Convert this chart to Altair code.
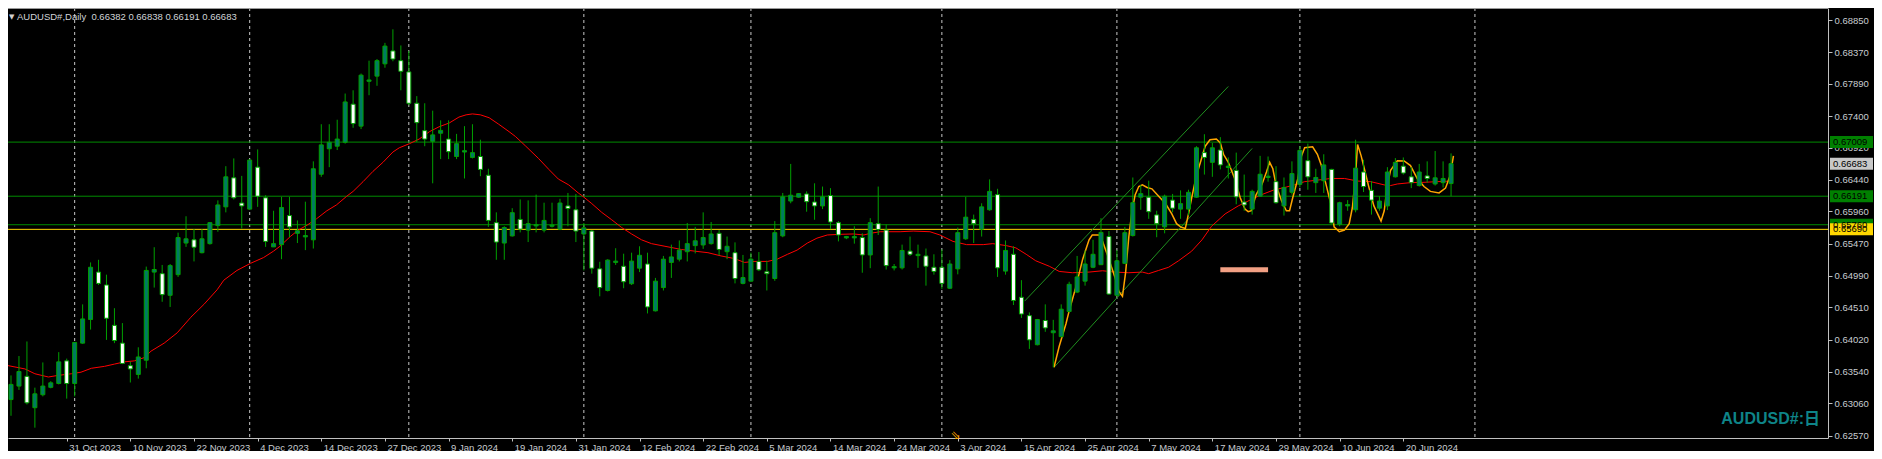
import json
import altair as alt
import pandas as pd

# ---------------- data ----------------
opens = [
0.63117, 0.63117, 0.63321, 0.63468, 0.62994, 0.63190, 0.63302, 0.63360, 0.63702, 0.63360,
0.63970, 0.64327, 0.65044, 0.64849, 0.64239, 0.63970, 0.63629, 0.63497, 0.63712, 0.65044,
0.65020, 0.64693, 0.65005, 0.65483, 0.65532, 0.65337, 0.65474, 0.65747, 0.66030, 0.66469,
0.66088, 0.65996, 0.66630, 0.66167, 0.65425, 0.65459, 0.65898, 0.65630, 0.65576, 0.65532,
0.66523, 0.66908, 0.66947, 0.67006, 0.67582, 0.67250, 0.67928, 0.68006, 0.68192, 0.68387,
0.68240, 0.68070, 0.67596, 0.67182, 0.67021, 0.67143, 0.67055, 0.66791, 0.66859, 0.66777,
0.66791, 0.66508, 0.65791, 0.65483, 0.65591, 0.65840, 0.65679, 0.65742, 0.65679, 0.65737,
0.65693, 0.66044, 0.65986, 0.65620, 0.65664, 0.65093, 0.64766, 0.65190, 0.65132, 0.64868,
0.65103, 0.65166, 0.64458, 0.64810, 0.65190, 0.65239, 0.65352, 0.65444, 0.65454, 0.65474,
0.65630, 0.65352, 0.65337, 0.64873, 0.64907, 0.65205, 0.65049, 0.64947, 0.65591, 0.66118,
0.66176, 0.66225, 0.66103, 0.66044, 0.66201, 0.65791, 0.65561, 0.65561, 0.65566, 0.65303,
0.65776, 0.65679, 0.65108, 0.65108, 0.65361, 0.65293, 0.65288, 0.65117, 0.65117, 0.64800,
0.65093, 0.65547, 0.65840, 0.65693, 0.65986, 0.66215, 0.65059, 0.65313, 0.64663, 0.64385,
0.63946, 0.64312, 0.64127, 0.64068, 0.64449, 0.64742, 0.64907, 0.65117, 0.65156, 0.65581,
0.64693, 0.65176, 0.65596, 0.66176, 0.66176, 0.65908, 0.65727, 0.66132, 0.65996, 0.65996,
0.66176, 0.66850, 0.66703, 0.66889, 0.66625, 0.66581, 0.66103, 0.65996, 0.66191, 0.66474,
0.66411, 0.66044, 0.66250, 0.66371, 0.66728, 0.66396, 0.66425, 0.66596, 0.65766, 0.66044,
0.65986, 0.66557, 0.66279, 0.66010, 0.66044, 0.66484, 0.66645, 0.66484, 0.66352, 0.66498,
0.66376, 0.66396, 0.66382]

highs = [
0.63287, 0.63482, 0.63775, 0.63995, 0.63297, 0.63678, 0.63395, 0.63834, 0.63736, 0.63980,
0.64556, 0.65190, 0.65230, 0.65005, 0.64498, 0.64273, 0.63687, 0.63907, 0.65127, 0.65420,
0.65152, 0.65166, 0.65640, 0.65888, 0.65693, 0.65693, 0.65801, 0.66128, 0.66645, 0.66762,
0.66498, 0.66752, 0.66898, 0.66206, 0.65971, 0.66181, 0.66181, 0.65825, 0.66108, 0.66718,
0.67279, 0.67279, 0.67347, 0.67743, 0.67792, 0.68045, 0.68240, 0.68265, 0.68509, 0.68714,
0.68470, 0.68387, 0.67704, 0.67596, 0.67484, 0.67338, 0.67338, 0.67133, 0.67250, 0.67279,
0.67045, 0.66606, 0.65947, 0.65737, 0.66010, 0.66142, 0.66128, 0.66215, 0.66093, 0.66093,
0.66152, 0.66240, 0.66225, 0.65786, 0.65679, 0.65200, 0.65239, 0.65405, 0.65322, 0.65337,
0.65434, 0.65337, 0.64956, 0.65288, 0.65459, 0.65522, 0.65786, 0.65727, 0.65947, 0.65801,
0.65679, 0.65581, 0.65493, 0.65303, 0.65337, 0.65347, 0.65215, 0.65815, 0.66240, 0.66679,
0.66235, 0.66264, 0.66386, 0.66337, 0.66313, 0.65815, 0.65591, 0.65737, 0.65630, 0.65859,
0.66337, 0.65761, 0.65166, 0.65459, 0.65581, 0.65459, 0.65400, 0.65313, 0.65386, 0.65225,
0.65718, 0.66181, 0.65913, 0.66084, 0.66445, 0.66303, 0.65522, 0.65434, 0.64922, 0.64434,
0.64336, 0.64556, 0.64322, 0.64556, 0.64898, 0.65288, 0.65371, 0.65532, 0.65859, 0.65664,
0.65376, 0.65727, 0.66474, 0.66362, 0.66425, 0.65971, 0.66215, 0.66225, 0.66279, 0.66289,
0.66947, 0.67128, 0.66996, 0.67084, 0.66777, 0.66850, 0.66518, 0.66289, 0.66801, 0.66791,
0.66645, 0.66474, 0.66718, 0.66947, 0.66986, 0.66606, 0.66825, 0.66606, 0.66108, 0.66132,
0.67045, 0.66742, 0.66420, 0.66191, 0.66630, 0.66767, 0.66777, 0.66630, 0.66679, 0.66718,
0.66874, 0.66718, 0.66838]

lows = [
0.63043, 0.62872, 0.63263, 0.63043, 0.62692, 0.63165, 0.63287, 0.63346, 0.63131, 0.63165,
0.63961, 0.64175, 0.64849, 0.64019, 0.63970, 0.63653, 0.63375, 0.63434, 0.63590, 0.64810,
0.64595, 0.64517, 0.64971, 0.65425, 0.65205, 0.65327, 0.65459, 0.65654, 0.65947, 0.66142,
0.65703, 0.65986, 0.66030, 0.65425, 0.65425, 0.65239, 0.65571, 0.65483, 0.65376, 0.65400,
0.66484, 0.66630, 0.66889, 0.66986, 0.67225, 0.67206, 0.67718, 0.67860, 0.68133, 0.68231,
0.67792, 0.67567, 0.67011, 0.66947, 0.66386, 0.66752, 0.66752, 0.66752, 0.66459, 0.66762,
0.66494, 0.65727, 0.65230, 0.65230, 0.65581, 0.65644, 0.65498, 0.65644, 0.65644, 0.65718,
0.65679, 0.65737, 0.65498, 0.65069, 0.65020, 0.64678, 0.64751, 0.65152, 0.64800, 0.64849,
0.65044, 0.64419, 0.64449, 0.64766, 0.64956, 0.65205, 0.65205, 0.65327, 0.65395, 0.65459,
0.65298, 0.65239, 0.64873, 0.64859, 0.64898, 0.65059, 0.64766, 0.64912, 0.65571, 0.66084,
0.66167, 0.65957, 0.65835, 0.65996, 0.65693, 0.65508, 0.65542, 0.65474, 0.65034, 0.65103,
0.65605, 0.65083, 0.65069, 0.65083, 0.65288, 0.65108, 0.64839, 0.65005, 0.64790, 0.64790,
0.65010, 0.65532, 0.65483, 0.65581, 0.65971, 0.64971, 0.65005, 0.64546, 0.64351, 0.63883,
0.63936, 0.64141, 0.63605, 0.64058, 0.64434, 0.64727, 0.64839, 0.65103, 0.65152, 0.64703,
0.64678, 0.65166, 0.65581, 0.65986, 0.65849, 0.65571, 0.65630, 0.65947, 0.65849, 0.65898,
0.66167, 0.66518, 0.66484, 0.66596, 0.66459, 0.66069, 0.65971, 0.65913, 0.66181, 0.66411,
0.66079, 0.65898, 0.66215, 0.66323, 0.66289, 0.66240, 0.66240, 0.65776, 0.65737, 0.65971,
0.65947, 0.66254, 0.65913, 0.65971, 0.65981, 0.66474, 0.66518, 0.66313, 0.66337, 0.66396,
0.66352, 0.66323, 0.66191]

closes = [
0.63238, 0.63346, 0.63541, 0.63068, 0.63204, 0.63321, 0.63370, 0.63687, 0.63360, 0.63980,
0.64336, 0.65117, 0.64873, 0.64346, 0.64010, 0.63663, 0.63580, 0.63761, 0.65069, 0.65083,
0.64703, 0.65142, 0.65566, 0.65547, 0.65420, 0.65547, 0.65791, 0.66059, 0.66484, 0.66167,
0.66044, 0.66737, 0.66191, 0.65508, 0.65474, 0.66020, 0.65727, 0.65669, 0.65596, 0.66606,
0.66967, 0.67006, 0.67055, 0.67616, 0.67289, 0.68021, 0.67948, 0.68240, 0.68460, 0.68265,
0.68079, 0.67596, 0.67303, 0.67055, 0.67118, 0.67186, 0.66864, 0.66986, 0.66879, 0.66850,
0.66596, 0.65825, 0.65498, 0.65718, 0.65942, 0.65693, 0.65776, 0.65761, 0.65825, 0.65756,
0.66088, 0.66005, 0.65664, 0.65713, 0.65103, 0.64810, 0.65225, 0.65210, 0.64898, 0.65210,
0.65298, 0.64517, 0.64907, 0.65239, 0.65273, 0.65376, 0.65474, 0.65517, 0.65566, 0.65620,
0.65386, 0.65434, 0.64947, 0.64961, 0.65239, 0.65078, 0.65020, 0.65640, 0.66181, 0.66206,
0.66230, 0.66108, 0.66044, 0.66181, 0.65801, 0.65605, 0.65581, 0.65581, 0.65303, 0.65791,
0.65688, 0.65142, 0.65127, 0.65371, 0.65313, 0.65313, 0.65132, 0.65054, 0.64873, 0.65166,
0.65640, 0.65874, 0.65776, 0.66030, 0.66264, 0.65108, 0.65371, 0.64615, 0.64410, 0.64019,
0.64327, 0.64200, 0.64156, 0.64483, 0.64859, 0.64971, 0.65166, 0.65313, 0.65644, 0.64712,
0.65215, 0.65640, 0.66093, 0.66230, 0.65957, 0.65776, 0.66191, 0.66010, 0.66079, 0.66250,
0.66923, 0.66777, 0.66923, 0.66664, 0.66645, 0.66181, 0.66059, 0.66264, 0.66523, 0.66494,
0.66093, 0.66323, 0.66533, 0.66884, 0.66484, 0.66474, 0.66664, 0.65786, 0.66093, 0.66064,
0.66615, 0.66337, 0.66132, 0.66118, 0.66557, 0.66703, 0.66542, 0.66396, 0.66557, 0.66459,
0.66469, 0.66459, 0.66683]

x_tick_bars = [8, 16, 24, 32, 40, 48, 56, 64, 72, 80, 88, 96, 104, 112, 120,
               128, 136, 144, 152, 160, 168, 176]
x_tick_labels = ["31 Oct 2023", "10 Nov 2023", "22 Nov 2023", "4 Dec 2023", "14 Dec 2023",
                 "27 Dec 2023", "9 Jan 2024", "19 Jan 2024", "31 Jan 2024", "12 Feb 2024",
                 "22 Feb 2024", "5 Mar 2024", "14 Mar 2024", "24 Mar 2024", "3 Apr 2024",
                 "15 Apr 2024", "25 Apr 2024", "7 May 2024", "17 May 2024", "29 May 2024",
                 "10 Jun 2024", "20 Jun 2024"]
y_tick_values = [0.68850, 0.68370, 0.67890, 0.67400, 0.66920, 0.66440, 0.65960,
                 0.65470, 0.64990, 0.64510, 0.64020, 0.63540, 0.63060, 0.62570]
grid_bars = [9, 31, 51, 73, 94, 118, 140, 163, 185]

level_prices = [0.67009, 0.66191, 0.65760, 0.65690]
level_colors = ["#008c00", "#008c00", "#008c00", "#ffd700"]

box_prices = [0.67009, 0.66683, 0.66191, 0.65760, 0.65690]
box_fills = ["#008000", "#c8c8c8", "#008000", "#008000", "#ffd700"]

ma_bars = [0.25, 2.75, 4.0, 5.7, 6.9, 8.6, 9.8, 11.1, 12.75, 14.0, 15.25, 16.5, 17.75, 18.6,
           20.25, 21.9, 23.6, 25.25, 26.9, 27.75, 29.4, 31.1, 32.75, 34.0, 34.8, 36.1, 37.1,
           38.2, 39.4, 40.7, 41.9, 43.2, 44.0, 45.25, 46.5, 47.75, 49.0, 49.8, 51.1, 52.3,
           53.6, 54.8, 56.1, 57.3, 58.2, 59.0, 60.0, 61.1, 62.3, 63.6, 64.4, 65.7, 67.3,
           68.6, 69.8, 71.1, 72.3, 72.75, 74.0, 75.25, 76.5, 77.75, 79.0, 80.25, 81.5, 83.2,
           85.25, 86.9, 88.6, 90.25, 91.9, 93.2, 94.4, 96.1, 97.3, 98.6, 99.8, 101.1, 102.3,
           103.6, 105.25, 106.9, 108.2, 109.0, 110.25, 112.75, 114.4, 116.5, 117.75, 119.4,
           121.1, 123.2, 124.4, 126.1, 127.3, 128.6, 129.8, 131.5, 132.75, 134.4, 136.5,
           138.2, 139.8, 141.5, 143.2, 144.0, 145.25, 146.5, 147.75, 149.4, 150.7, 151.9,
           153.6, 155.25, 156.9, 158.2, 159.8, 161.1, 162.3, 163.6, 165.25, 166.9, 168.6,
           170.25, 171.9, 173.6, 174.4, 175.25, 176.9, 178.6, 180.25, 182.1]
ma_prices = [0.63639, 0.63580, 0.63507, 0.63458, 0.63482, 0.63507, 0.63531, 0.63590, 0.63619,
             0.63653, 0.63687, 0.63702, 0.63751, 0.63849, 0.63970, 0.64127, 0.64361, 0.64556,
             0.64776, 0.64922, 0.65069, 0.65176, 0.65264, 0.65361, 0.65434, 0.65581, 0.65679,
             0.65752, 0.65850, 0.65971, 0.66059, 0.66191, 0.66264, 0.66411, 0.66567, 0.66703,
             0.66859, 0.66923, 0.66986, 0.67055, 0.67167, 0.67240, 0.67299, 0.67387, 0.67421,
             0.67435, 0.67421, 0.67377, 0.67279, 0.67167, 0.67094, 0.66947, 0.66762, 0.66596,
             0.66450, 0.66362, 0.66240, 0.66201, 0.66079, 0.65947, 0.65835, 0.65718, 0.65620,
             0.65532, 0.65474, 0.65434, 0.65386, 0.65361, 0.65337, 0.65288, 0.65249, 0.65190,
             0.65205, 0.65205, 0.65239, 0.65313, 0.65376, 0.65483, 0.65557, 0.65605, 0.65615,
             0.65620, 0.65605, 0.65630, 0.65654, 0.65654, 0.65664, 0.65654, 0.65605, 0.65508,
             0.65459, 0.65459, 0.65474, 0.65444, 0.65410, 0.65313, 0.65215, 0.65132, 0.65054,
             0.65034, 0.65044, 0.65064, 0.65044, 0.65034, 0.65044, 0.65020, 0.65069, 0.65117,
             0.65215, 0.65361, 0.65532, 0.65737, 0.65923, 0.66044, 0.66142, 0.66215, 0.66289,
             0.66323, 0.66362, 0.66411, 0.66435, 0.66459, 0.66459, 0.66420, 0.66411, 0.66362,
             0.66352, 0.66376, 0.66396, 0.66401, 0.66411, 0.66420]

zz_bars = [132.1, 132.75, 133.6, 134.0, 134.8, 135.7, 136.1, 136.5, 136.9, 137.75, 138.2,
           139.0, 139.8, 140.25, 140.7, 141.1, 141.5, 141.9, 142.3, 142.75, 143.2, 143.8,
           144.4, 145.25, 146.1, 146.9, 147.5, 148.0, 148.6, 149.0, 149.4, 150.0, 150.5,
           151.1, 151.7, 152.5, 153.0, 153.4, 154.0, 154.8, 155.5, 156.1, 156.5, 156.9,
           157.5, 158.2, 158.8, 159.2, 159.6, 160.0, 160.7, 161.3, 161.7, 162.1, 162.75,
           163.2, 163.6, 164.6, 165.2, 165.7, 166.3, 166.9, 167.3, 167.95, 168.6, 169.2,
           169.6, 170.0, 170.25, 170.7, 171.1, 171.7, 172.3, 173.2, 173.6, 174.0, 174.4,
           175.25, 176.1, 176.9, 177.75, 178.6, 179.4, 180.5, 181.3, 181.9, 182.3]
zz_prices = [0.63605, 0.63922, 0.64263, 0.64458, 0.64800, 0.65239, 0.65386, 0.65532, 0.65605,
             0.65605, 0.65508, 0.65239, 0.64947, 0.64751, 0.64678, 0.65044, 0.65581, 0.65971,
             0.66215, 0.66337, 0.66362, 0.66323, 0.66303, 0.66191, 0.66080, 0.65923, 0.65776,
             0.65727, 0.65703, 0.65923, 0.66167, 0.66508, 0.66703, 0.66947, 0.67045, 0.67055,
             0.66996, 0.66825, 0.66703, 0.66459, 0.66167, 0.65996, 0.65957, 0.65971, 0.66215,
             0.66362, 0.66557, 0.66703, 0.66606, 0.66362, 0.66118, 0.65971, 0.65971, 0.66167,
             0.66459, 0.66801, 0.66923, 0.66938, 0.66825, 0.66654, 0.66362, 0.66069, 0.65727,
             0.65654, 0.65679, 0.65776, 0.66020, 0.66508, 0.66972, 0.66801, 0.66606, 0.66313,
             0.66044, 0.65815, 0.65971, 0.66362, 0.66581, 0.66728, 0.66723, 0.66654, 0.66459,
             0.66337, 0.66264, 0.66240, 0.66313, 0.66508, 0.66801]

chan_ids = ["lower", "lower", "upper", "upper"]
chan_bars = [132.1, 157.0, 128.4, 154.0]
chan_prices = [0.63605, 0.66913, 0.64605, 0.67850]

marker_bar_start = [153]
marker_bar_end = [159]
marker_price = [0.65078]

icon_bar = [119.75]

title_text = "AUDUSD#,Daily\u00a0\u00a00.66382 0.66838 0.66191 0.66683"
symbol_text = "AUDUSD#:日"

# ---------------- chart ----------------
W, H = 1820, 430
FONT = "Liberation Sans"
LABEL_COLOR = "#c8ccd0"
AXIS_COLOR = "#c0c0c0"
GREEN = "#00a000"

xs = alt.Scale(domain=[1.25, 228.75], nice=False, zero=False)
ys = alt.Scale(domain=[0.62536, 0.69036], nice=False, zero=False)

xaxis = alt.Axis(values=x_tick_bars,
                 labelExpr=json.dumps(x_tick_labels) + "[round(datum.value / 8) - 1]",
                 title=None, grid=False, tickSize=3, tickColor=AXIS_COLOR,
                 domainColor=AXIS_COLOR, labelColor=LABEL_COLOR, labelFont=FONT,
                 labelFontSize=9.5, labelAlign="left", labelOffset=2, labelPadding=1,
                 labelBaseline="top", labelFlush=False, labelOverlap=False)
yaxis = alt.Axis(orient="right", values=y_tick_values, format=".5f", title=None,
                 grid=False, tickSize=4, tickColor=AXIS_COLOR, domainColor=AXIS_COLOR,
                 labelColor=LABEL_COLOR, labelFont=FONT, labelFontSize=9.5,
                 labelPadding=2, labelOverlap=False, labelFlush=False)


def X(field):
    return alt.X(f"{field}:Q", scale=xs, axis=xaxis)


def Y(field):
    return alt.Y(f"{field}:Q", scale=ys, axis=yaxis)


candles = pd.DataFrame({"bar": list(range(len(opens))), "open": opens, "high": highs,
                        "low": lows, "close": closes})
grid_df = pd.DataFrame({"bar": grid_bars})
levels_df = pd.DataFrame({"price": level_prices, "col": level_colors})
boxes_df = pd.DataFrame({"price": box_prices, "col": box_fills,
                         "label": [f"{p:.5f}" for p in box_prices]})
ma_df = pd.DataFrame({"bar": ma_bars, "price": ma_prices})
zz_df = pd.DataFrame({"bar": zz_bars, "price": zz_prices})
chan_df = pd.DataFrame({"id": chan_ids, "bar": chan_bars, "price": chan_prices})
marker_df = pd.DataFrame({"bar": marker_bar_start, "bar2": marker_bar_end,
                          "price": marker_price})
icon_df = pd.DataFrame({"bar": icon_bar, "t": ["\u21d8"]})
title_df = pd.DataFrame({"t": [title_text]})
tri_df = pd.DataFrame({"t": ["\u25bc"]})
sym_df = pd.DataFrame({"t": [symbol_text]})
frame_df = pd.DataFrame({"k": [0]})

vgrid = alt.Chart(grid_df).mark_rule(color="#c8c8c8", strokeDash=[3, 3], strokeWidth=1,
                                     clip=True).encode(x=X("bar"))
levels = alt.Chart(levels_df).mark_rule(strokeWidth=1, clip=True).encode(
    y=Y("price"), color=alt.Color("col:N", scale=None))
ma = alt.Chart(ma_df).mark_line(color="#ff0000", strokeWidth=1, clip=True).encode(
    x=X("bar"), y=Y("price"))
chan = alt.Chart(chan_df).mark_line(color="#1f8f1f", strokeWidth=1, clip=True).encode(
    x=X("bar"), y=Y("price"), detail="id:N")
zz = alt.Chart(zz_df).mark_line(color="#ffa500", strokeWidth=1.5, clip=True).encode(
    x=X("bar"), y=Y("price"))
marker = alt.Chart(marker_df).mark_rule(color="#f2a084", strokeWidth=5, strokeCap="butt",
                                        clip=True).encode(
    x=X("bar"), x2="bar2:Q", y=Y("price"))
wicks = alt.Chart(candles).mark_rule(color=GREEN, strokeWidth=1, clip=True).encode(
    x=X("bar"), y=Y("low"), y2="high:Q")
bodies = alt.Chart(candles).mark_bar(width=4, stroke=GREEN, strokeWidth=1, clip=True).encode(
    x=X("bar"), y=Y("open"), y2="close:Q",
    fill=alt.condition("datum.close >= datum.open", alt.value("#007a63"),
                       alt.value("#ffffff")))
box_rects = alt.Chart(boxes_df).mark_rule(strokeWidth=12, strokeCap="butt").encode(
    x=alt.value(W + 2), x2=alt.value(W + 45), y=Y("price"),
    color=alt.Color("col:N", scale=None))
box_text = alt.Chart(boxes_df).mark_text(align="left", baseline="middle", font=FONT,
                                         fontSize=9.5, color="#000000").encode(
    x=alt.value(W + 5), y=Y("price"), text="label:N")
frame = alt.Chart(frame_df).mark_rule(color="#9a9a9a", strokeWidth=2).encode(
    x=alt.value(0), x2=alt.value(W), y=alt.value(0))
tri = alt.Chart(tri_df).mark_text(align="left", baseline="middle", font="DejaVu Sans",
                                  fontSize=7, color="#d0d0d0").encode(
    x=alt.value(1), y=alt.value(9), text="t:N")
title = alt.Chart(title_df).mark_text(align="left", baseline="middle", font=FONT,
                                      fontSize=9.5, color="#d0d4d8").encode(
    x=alt.value(9), y=alt.value(9), text="t:N")
sym = alt.Chart(sym_df).mark_text(align="right", baseline="alphabetic",
                                  font="Liberation Sans, Noto Sans CJK SC",
                                  fontSize=16, fontWeight="bold", color="#0e8488").encode(
    x=alt.value(W - 8), y=alt.value(H - 14), text="t:N")
icon = alt.Chart(icon_df).mark_text(align="center", baseline="middle", font="DejaVu Sans",
                                    fontSize=12, color="#ffa500").encode(
    x=X("bar"), y=alt.value(H - 3), text="t:N")

chart = alt.layer(
    vgrid, levels, ma, chan, zz, marker, wicks, bodies, icon,
    box_rects, box_text, frame, tri, title, sym
).properties(
    width=W, height=H, background="#000000",
    padding={"left": 0, "top": 0, "right": 46, "bottom": 13},
    autosize=alt.AutoSizeParams(type="none"),
).configure_view(stroke="transparent")

chart.save("out.html", embed_options={"renderer": "svg", "actions": False})
